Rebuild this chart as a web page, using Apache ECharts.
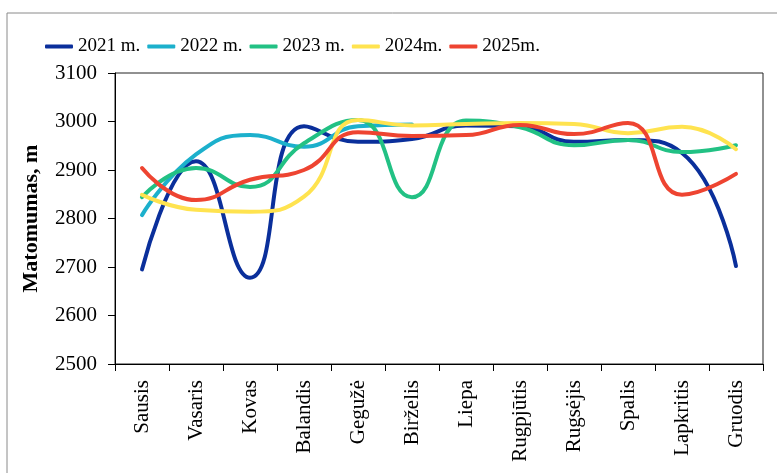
<!DOCTYPE html>
<html>
<head>
<meta charset="utf-8">
<script src="https://cdn.jsdelivr.net/npm/echarts@6/dist/echarts.min.js"></script>
<style>
  html, body { margin: 0; padding: 0; background: #fff; }
  #chart { width: 777px; height: 473px; }
</style>
</head>
<body>
<div id="chart"></div>
<script>
var months = ['Sausis', 'Vasaris', 'Kovas', 'Balandis', 'Gegužė', 'Birželis',
    'Liepa', 'Rugpjūtis', 'Rugsėjis', 'Spalis', 'Lapkritis', 'Gruodis'];
var seriesNames = ['2021 m.', '2022 m.', '2023 m.', '2024m.', '2025m.'];
var colors = ['#0a2f9b', '#1cb0cc', '#22c184', '#ffe34f', '#ee4431'];

var y2021 = [2695, 2918, 2678, 2990, 2958, 2964, 2992, 2990, 2958, 2962, 2935, 2702];
var y2022 = [2807, 2932, 2972, 2948, 2990, 2994, null, null, null, null, null, null];
var y2023 = [2844, 2904, 2865, 2955, 3003, 2844, 3002, 2988, 2951, 2962, 2937, 2951];
var y2024 = [2849, 2818, 2814, 2845, 3003, 2992, 2995, 2997, 2995, 2976, 2989, 2943];
var y2025 = [2904, 2838, 2880, 2900, 2978, 2970, 2972, 2993, 2974, 2997, 2849, 2892];

var allData = [y2021, y2022, y2023, y2024, y2025];

var font = 'Liberation Serif';
var myChart = echarts.init(document.getElementById('chart'));

var option = {
    backgroundColor: '#fff',
    animation: false,
    textStyle: {fontFamily: font},
    graphic: [{
        type: 'rect',
        shape: {x: 7, y: 13, width: 800, height: 500},
        style: {fill: 'none', stroke: '#8a8a8a', lineWidth: 1},
        silent: true
    }],
    legend: {
        top: 32,
        left: 40,
        itemWidth: 28,
        itemHeight: 4,
        itemGap: 7,
        icon: 'roundRect',
        textStyle: {fontFamily: font, fontSize: 19, color: '#000'},
        data: seriesNames
    },
    grid: {
        left: 115,
        right: 14,
        top: 73,
        bottom: 109,
        show: true,
        borderColor: '#222',
        borderWidth: 1
    },
    xAxis: {
        type: 'category',
        data: months,
        boundaryGap: true,
        axisLine: {lineStyle: {color: '#000', width: 1}},
        axisTick: {show: true, interval: 0, length: 7, lineStyle: {color: '#000'}},
        axisLabel: {interval: 0, rotate: 90, margin: 16, fontFamily: font, fontSize: 21, color: '#000'}
    },
    yAxis: {
        type: 'value',
        min: 2500,
        max: 3100,
        interval: 100,
        name: 'Matomumas, m',
        nameLocation: 'middle',
        nameRotate: 90,
        nameGap: 73,
        nameTextStyle: {fontFamily: font, fontSize: 22, fontWeight: 'bold', color: '#000'},
        axisLine: {show: true, lineStyle: {color: '#000', width: 1}},
        axisTick: {show: true, length: 7, lineStyle: {color: '#000'}},
        axisLabel: {
            margin: 18, fontFamily: font, fontSize: 21, color: '#000',
            formatter: function(v) { return String(v); }
        },
        splitLine: {show: false}
    },
    series: seriesNames.map(function(name, i) {
        return {
            name: name,
            type: 'line',
            smooth: 0.5,
            symbol: 'none',
            connectNulls: false,
            lineStyle: {width: 4, color: colors[i], cap: 'round'},
            itemStyle: {color: colors[i]},
            data: allData[i]
        };
    })
};

myChart.setOption(option);
</script>
</body>
</html>
